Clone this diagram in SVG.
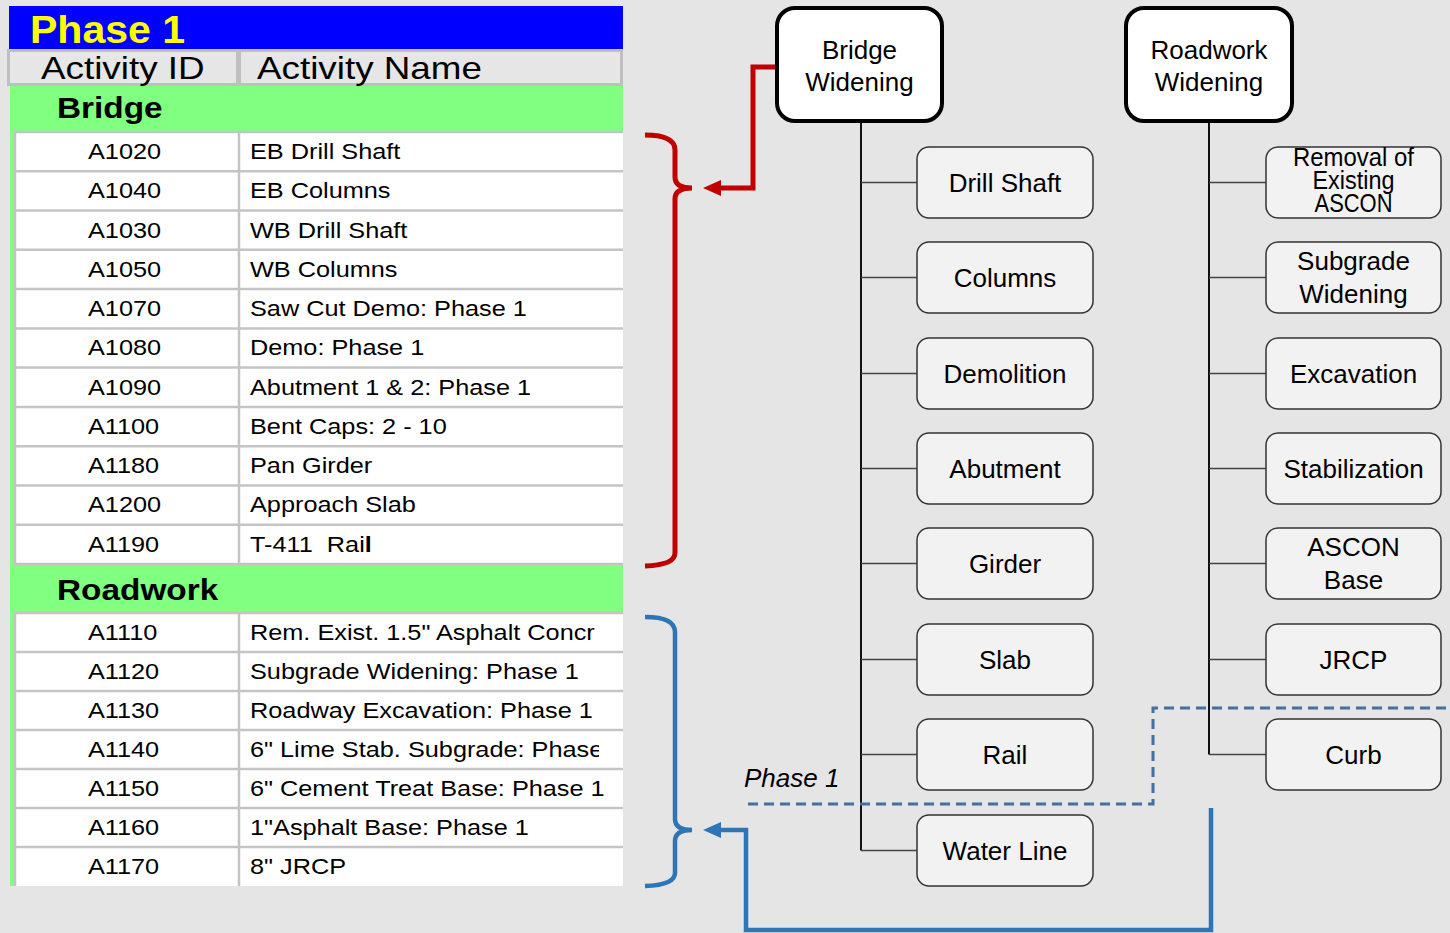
<svg xmlns="http://www.w3.org/2000/svg" width="1450" height="933" viewBox="0 0 1450 933">
<style>
.bg{fill:#e5e5e5}
.tt{font-family:"Liberation Sans",Arial,sans-serif}
.cell{font-family:"Liberation Sans",Arial,sans-serif;font-size:22px;fill:#000}
.sec{font-family:"Liberation Sans",Arial,sans-serif;font-size:29px;font-weight:bold;fill:#000}
.hdr{font-family:"Liberation Sans",Arial,sans-serif;font-size:32px;fill:#000}
.rl{stroke:#c4c4c4;stroke-width:2.5}
.root rect{fill:#fff;stroke:#000;stroke-width:4}
.child rect{fill:#f2f2f2;stroke:#333;stroke-width:1.5}
.nt{font-family:"Liberation Sans",Arial,sans-serif;font-size:26px;fill:#000;text-anchor:middle}
.trunk{stroke:#111;stroke-width:2;fill:none}
.br{stroke:#444;stroke-width:1.5;fill:none}
.red{stroke:#c00000;stroke-width:5;fill:none}
.blue{stroke:#2e75b6;stroke-width:4.5;fill:none}
.dash{stroke:#41719c;stroke-width:3;fill:none;stroke-dasharray:10 6}
</style>
<defs>
<clipPath id="tclip"><rect x="0" y="0" width="623" height="933"/></clipPath>
<clipPath id="cclip"><rect x="0" y="730" width="599" height="39"/></clipPath>
<marker id="arR" markerUnits="userSpaceOnUse" markerWidth="18" markerHeight="16" viewBox="0 0 18 16" refX="9" refY="8" orient="auto"><path d="M0,0 L18,8 L0,16 z" fill="#c00000"/></marker>
<marker id="arB" markerUnits="userSpaceOnUse" markerWidth="18" markerHeight="16" viewBox="0 0 18 16" refX="9" refY="8" orient="auto"><path d="M0,0 L18,8 L0,16 z" fill="#2e75b6"/></marker>
</defs>
<rect class="bg" x="0" y="0" width="1450" height="933"/>

<g id="table" clip-path="url(#tclip)">
  <rect x="9" y="6" width="614" height="43" fill="#0000ff"/>
  <text class="tt" x="30" y="43" font-size="39" font-weight="bold" fill="#ffff00" textLength="155" lengthAdjust="spacingAndGlyphs">Phase 1</text>
  <rect x="8.5" y="50.5" width="613" height="34" fill="#e6e6e6" stroke="#bfbfbf" stroke-width="3"/>
  <line x1="238.5" y1="50" x2="238.5" y2="85" stroke="#bfbfbf" stroke-width="5"/>
  <rect x="10" y="86" width="613" height="46" fill="#80ff80"/>
  <rect x="10" y="132" width="5" height="754" fill="#80ff80"/>
  <rect x="15" y="132" width="608" height="432" fill="#fff"/>
  <rect x="10" y="564" width="613" height="49" fill="#80ff80"/>
  <rect x="15" y="613" width="608" height="273" fill="#fff"/>
  <g class="rl">
    <line x1="14" y1="132" x2="623" y2="132"/>
    <line x1="14" y1="171.3" x2="623" y2="171.3"/>
    <line x1="14" y1="210.5" x2="623" y2="210.5"/>
    <line x1="14" y1="249.8" x2="623" y2="249.8"/>
    <line x1="14" y1="289.1" x2="623" y2="289.1"/>
    <line x1="14" y1="328.4" x2="623" y2="328.4"/>
    <line x1="14" y1="367.6" x2="623" y2="367.6"/>
    <line x1="14" y1="406.9" x2="623" y2="406.9"/>
    <line x1="14" y1="446.2" x2="623" y2="446.2"/>
    <line x1="14" y1="485.4" x2="623" y2="485.4"/>
    <line x1="14" y1="524.7" x2="623" y2="524.7"/>
    <line x1="14" y1="564" x2="623" y2="564"/>
    <line x1="14" y1="613" x2="623" y2="613"/>
    <line x1="14" y1="652" x2="623" y2="652"/>
    <line x1="14" y1="691" x2="623" y2="691"/>
    <line x1="14" y1="730" x2="623" y2="730"/>
    <line x1="14" y1="769" x2="623" y2="769"/>
    <line x1="14" y1="808" x2="623" y2="808"/>
    <line x1="14" y1="847" x2="623" y2="847"/>
    <line x1="15" y1="132" x2="15" y2="564"/>
    <line x1="15" y1="613" x2="15" y2="886"/>
    <line x1="239" y1="132" x2="239" y2="564"/>
    <line x1="239" y1="613" x2="239" y2="886"/>
  </g>
  <g transform="scale(1.15 1)">
    <text class="hdr" x="35.7" y="79">Activity ID</text>
    <text class="hdr" x="223.5" y="79">Activity Name</text>
    <text class="sec" x="49.6" y="118">Bridge</text>
    <text class="sec" x="49.6" y="600">Roadwork</text>
    <g class="cell">
      <text x="76.5" y="159.1">A1020</text><text x="217.4" y="159.1">EB Drill Shaft</text>
      <text x="76.5" y="198.4">A1040</text><text x="217.4" y="198.4">EB Columns</text>
      <text x="76.5" y="237.6">A1030</text><text x="217.4" y="237.6">WB Drill Shaft</text>
      <text x="76.5" y="276.9">A1050</text><text x="217.4" y="276.9">WB Columns</text>
      <text x="76.5" y="316.2">A1070</text><text x="217.4" y="316.2">Saw Cut Demo: Phase 1</text>
      <text x="76.5" y="355.5">A1080</text><text x="217.4" y="355.5">Demo: Phase 1</text>
      <text x="76.5" y="394.7">A1090</text><text x="217.4" y="394.7">Abutment 1 &amp; 2: Phase 1</text>
      <text x="76.5" y="434">A1100</text><text x="217.4" y="434">Bent Caps: 2 - 10</text>
      <text x="76.5" y="473.3">A1180</text><text x="217.4" y="473.3">Pan Girder</text>
      <text x="76.5" y="512.5">A1200</text><text x="217.4" y="512.5">Approach Slab</text>
      <text x="76.5" y="551.8">A1190</text><text x="217.4" y="551.8" xml:space="preserve">T-411  Rai<tspan font-weight="bold">l</tspan></text>
      <text x="76.5" y="640">A1110</text><text x="217.4" y="640">Rem. Exist. 1.5" Asphalt Concr</text>
      <text x="76.5" y="679">A1120</text><text x="217.4" y="679">Subgrade Widening: Phase 1</text>
      <text x="76.5" y="718">A1130</text><text x="217.4" y="718">Roadway Excavation: Phase 1</text>
      <text x="76.5" y="757">A1140</text>
      <text x="76.5" y="796">A1150</text><text x="217.4" y="796">6" Cement Treat Base: Phase 1</text>
      <text x="76.5" y="835">A1160</text><text x="217.4" y="835">1"Asphalt Base: Phase 1</text>
      <text x="76.5" y="874">A1170</text><text x="217.4" y="874">8" JRCP</text>
    </g>
  </g>
  <g clip-path="url(#cclip)">
    <text class="cell" transform="scale(1.15 1)" x="217.4" y="757">6" Lime Stab. Subgrade: Phase</text>
  </g>
</g>

<g id="connectors">
  <path class="trunk" d="M861,122 V850.5"/>
  <path class="trunk" d="M1209,122 V754.5"/>
  <path class="br" d="M861,182.5 H917 M861,277.5 H917 M861,373.5 H917 M861,468.5 H917 M861,563.5 H917 M861,659.5 H917 M861,754.5 H917 M861,850.5 H917"/>
  <path class="br" d="M1209,182.5 H1266 M1209,277.5 H1266 M1209,373.5 H1266 M1209,468.5 H1266 M1209,563.5 H1266 M1209,659.5 H1266 M1209,754.5 H1266"/>
  <path class="red" d="M645,135 Q675,135 675,150 L675,177 Q675,188 692,188 Q675,188 675,199 L675,553 Q675,565 645,566"/>
  <path class="red" d="M776,67 H753 V188 H712" marker-end="url(#arR)"/>
  <path class="blue" d="M645,617 Q675,617 675,632 L675,819 Q675,830 692,830 Q675,830 675,841 L675,873 Q675,885 645,886"/>
  <path class="blue" d="M1211,808 V930 H746 V830 H712" marker-end="url(#arB)"/>
  <path class="dash" d="M748,804 H1153 V708 H1450"/>
  <text class="tt" x="744" y="787" font-size="26" font-style="italic" fill="#000">Phase 1</text>
</g>

<g id="n-bridge" class="root"><rect x="777" y="8" width="165" height="113" rx="18"/><text class="nt" x="859.5" y="59">Bridge</text><text class="nt" x="859.5" y="91">Widening</text></g>
<g id="n-roadwork" class="root"><rect x="1126" y="8" width="166" height="113" rx="18"/><text class="nt" x="1209" y="59">Roadwork</text><text class="nt" x="1209" y="91">Widening</text></g>

<g id="n-drill" class="child"><rect x="917" y="147" width="176" height="71" rx="12"/><text class="nt" x="1005" y="191.5">Drill Shaft</text></g>
<g id="n-columns" class="child"><rect x="917" y="242" width="176" height="71" rx="12"/><text class="nt" x="1005" y="286.5">Columns</text></g>
<g id="n-demolition" class="child"><rect x="917" y="338" width="176" height="71" rx="12"/><text class="nt" x="1005" y="382.5">Demolition</text></g>
<g id="n-abutment" class="child"><rect x="917" y="433" width="176" height="71" rx="12"/><text class="nt" x="1005" y="477.5">Abutment</text></g>
<g id="n-girder" class="child"><rect x="917" y="528" width="176" height="71" rx="12"/><text class="nt" x="1005" y="572.5">Girder</text></g>
<g id="n-slab" class="child"><rect x="917" y="624" width="176" height="71" rx="12"/><text class="nt" x="1005" y="668.5">Slab</text></g>
<g id="n-rail" class="child"><rect x="917" y="719" width="176" height="71" rx="12"/><text class="nt" x="1005" y="763.5">Rail</text></g>
<g id="n-water" class="child"><rect x="917" y="815" width="176" height="71" rx="12"/><text class="nt" x="1005" y="859.5">Water Line</text></g>

<g id="n-removal" class="child"><rect x="1266" y="147" width="175" height="71" rx="12"/><text class="nt" x="1353.5" y="166" font-size="20" textLength="121" lengthAdjust="spacingAndGlyphs">Removal of</text><text class="nt" x="1353.5" y="189" font-size="20" textLength="82" lengthAdjust="spacingAndGlyphs">Existing</text><text class="nt" x="1353.5" y="212" font-size="20" textLength="78" lengthAdjust="spacingAndGlyphs">ASCON</text></g>
<g id="n-subgrade" class="child"><rect x="1266" y="242" width="175" height="71" rx="12"/><text class="nt" x="1353.5" y="270">Subgrade</text><text class="nt" x="1353.5" y="303">Widening</text></g>
<g id="n-excavation" class="child"><rect x="1266" y="338" width="175" height="71" rx="12"/><text class="nt" x="1353.5" y="382.5">Excavation</text></g>
<g id="n-stabilization" class="child"><rect x="1266" y="433" width="175" height="71" rx="12"/><text class="nt" x="1353.5" y="477.5">Stabilization</text></g>
<g id="n-ascon" class="child"><rect x="1266" y="528" width="175" height="71" rx="12"/><text class="nt" x="1353.5" y="556">ASCON</text><text class="nt" x="1353.5" y="589">Base</text></g>
<g id="n-jrcp" class="child"><rect x="1266" y="624" width="175" height="71" rx="12"/><text class="nt" x="1353.5" y="668.5">JRCP</text></g>
<g id="n-curb" class="child"><rect x="1266" y="719" width="175" height="71" rx="12"/><text class="nt" x="1353.5" y="763.5">Curb</text></g>
</svg>
